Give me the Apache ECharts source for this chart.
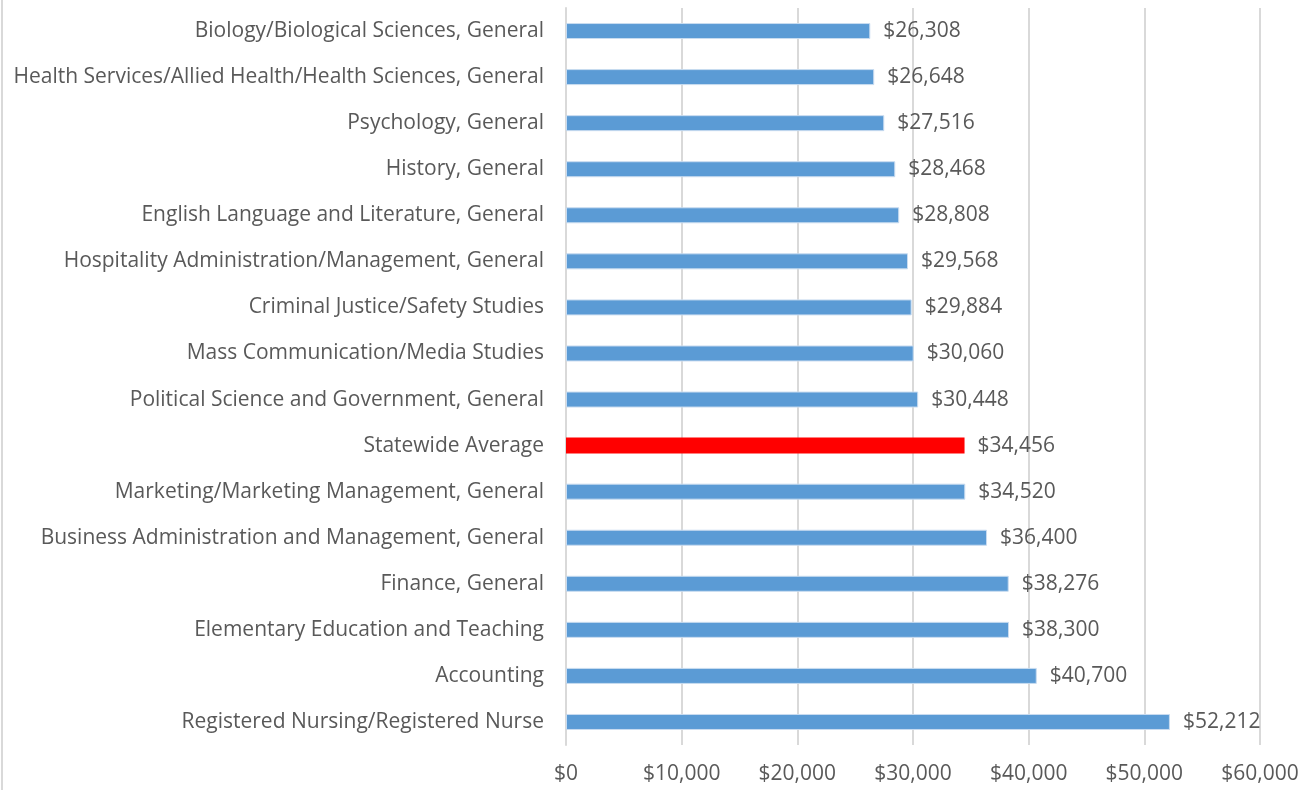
<!DOCTYPE html>
<html>
<head>
<meta charset="utf-8">
<script src="https://cdn.jsdelivr.net/npm/echarts@6/dist/echarts.min.js"></script>
<style>
  html, body { margin: 0; padding: 0; background: #fff; }
  #chart { width: 1312px; height: 790px; }
</style>
</head>
<body>
<div id="chart"></div>
<script>
const categories = [
    'Biology/Biological Sciences, General',
    'Health Services/Allied Health/Health Sciences, General',
    'Psychology, General',
    'History, General',
    'English Language and Literature, General',
    'Hospitality Administration/Management, General',
    'Criminal Justice/Safety Studies',
    'Mass Communication/Media Studies',
    'Political Science and Government, General',
    'Statewide Average',
    'Marketing/Marketing Management, General',
    'Business Administration and Management, General',
    'Finance, General',
    'Elementary Education and Teaching',
    'Accounting',
    'Registered Nursing/Registered Nurse'
];
const salaries = [26308, 26648, 27516, 28468, 28808, 29568, 29884, 30060, 30448,
    34456, 34520, 36400, 38276, 38300, 40700, 52212];
const highlight = 'Statewide Average';

const FONT = '"Open Sans", sans-serif';
const TEXT = '#595959';

function money(v) {
    return '$' + v.toLocaleString('en-US');
}

const chart = echarts.init(document.getElementById('chart'));

const option = {
    backgroundColor: '#fff',
    animation: false,
    grid: { left: 566, right: 52, top: 8, bottom: 45 },
    xAxis: {
        type: 'value',
        min: 0,
        max: 60000,
        interval: 10000,
        axisLine: { show: false },
        axisTick: { show: false },
        splitLine: { lineStyle: { color: '#d9d9d9', width: 2 } },
        axisLabel: {
            formatter: v => money(v),
            color: TEXT,
            fontFamily: FONT,
            fontSize: 21,
            margin: 19
        }
    },
    yAxis: {
        type: 'category',
        inverse: true,
        data: categories,
        axisLine: { lineStyle: { color: '#d9d9d9', width: 2 } },
        axisTick: { show: false },
        axisLabel: {
            color: TEXT,
            fontFamily: FONT,
            fontSize: 21,
            margin: 22,
            padding: [4, 0, 0, 0]
        }
    },
    series: [{
        type: 'bar',
        barWidth: 16,
        data: salaries.map((v, i) => ({
            value: v,
            itemStyle: categories[i] === highlight
                ? { color: '#ff0000', borderWidth: 0 }
                : { color: '#5b9bd5', borderColor: '#c9dcf0', borderWidth: 1 }
        })),
        label: {
            show: true,
            position: 'right',
            distance: 13,
            padding: [4, 0, 0, 0],
            formatter: p => money(p.value),
            color: TEXT,
            fontFamily: FONT,
            fontSize: 21
        }
    }],
    graphic: [{
        type: 'line',
        shape: { x1: 2, y1: 0, x2: 2, y2: 790 },
        style: { stroke: '#d9d9d9', lineWidth: 2 }
    }]
};

chart.setOption(option);
</script>
</body>
</html>
